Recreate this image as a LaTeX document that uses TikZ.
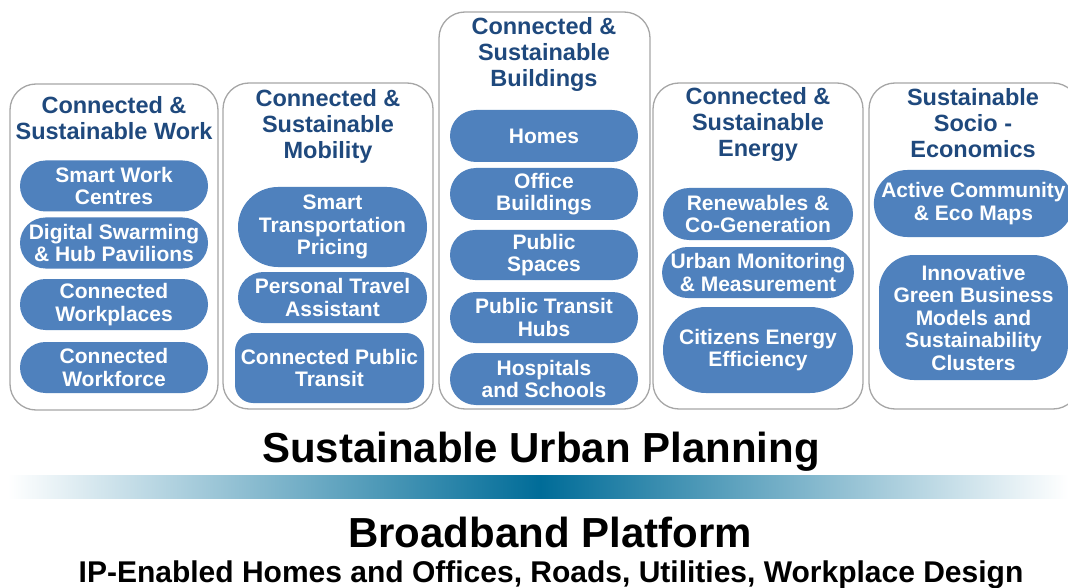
\documentclass[tikz,border=0pt]{standalone}
\usepackage{fontspec}
\setmainfont{Liberation Sans}
\usetikzlibrary{positioning,shapes.misc}
\definecolor{pillblue}{HTML}{4F81BD}
\definecolor{headblue}{HTML}{1F497D}
\definecolor{framegray}{HTML}{A6A6A6}
\definecolor{bandteal}{HTML}{006C98}
\tikzset{
	column/.style={draw=framegray,line width=1.3pt,rounded corners=26pt,fill=white,inner sep=0pt},
	heading/.style={text=headblue,font=\bfseries\fontsize{23.5}{26}\selectfont,align=center,inner sep=0pt},
	pill/.style={rounded rectangle,fill=pillblue,text=white,
		font=\bfseries\fontsize{21}{22.5}\selectfont,align=center,
		minimum width=188pt,minimum height=51pt,inner sep=0pt},
	tile/.style={pill,rectangle,rounded corners=#1},
	banner/.style={font=\bfseries\fontsize{42}{46}\selectfont,inner sep=0pt},
	subbanner/.style={font=\bfseries\fontsize{30}{33}\selectfont,inner sep=0pt}
}

\begin{document}
\begin{tikzpicture}[x=1pt,y=-1pt]
	\useasboundingbox (0,0) rectangle (1068,588);

	% columns
	\node[column,minimum width=208pt,minimum height=326pt] (work) at (114,247) {};
	\node[column,minimum width=210pt,minimum height=326pt] (mobility) at (328,246) {};
	\node[column,minimum width=211pt,minimum height=397pt] (buildings) at (544.5,210.5) {};
	\node[column,minimum width=210pt,minimum height=326pt] (energy) at (758,246) {};
	\node[column,minimum width=210pt,minimum height=326pt] (socio) at (974,246) {};

	% headings
	\node[heading] (workhead) at (114,118.5) {Connected \&\\Sustainable Work};
	\node[heading] (mobilityhead) at (328,126) {Connected \&\\Sustainable\\Mobility};
	\node[heading] (buildingshead) at (544,54) {Connected \&\\Sustainable\\Buildings};
	\node[heading] (energyhead) at (758,124.5) {Connected \&\\Sustainable\\Energy};
	\node[heading] (sociohead) at (973,123) {Sustainable\\Socio -\\Economics};

	% work
	\node[pill] (smartwork) at (114,186) {Smart Work\\Centres};
	\node[pill] (swarming) at (114,243) {Digital Swarming\\\& Hub Pavilions};
	\node[pill] (workplaces) at (114,304.5) {Connected\\Workplaces};
	\node[pill] (workforce) at (114,367.5) {Connected\\Workforce};

	% mobility
	\node[pill,minimum width=189pt,minimum height=80pt] (pricing) at (332.5,227) {Smart\\Transportation\\Pricing};
	\node[pill,minimum width=189pt] (travel) at (332.5,297.5) {Personal Travel\\Assistant};
	\node[tile=18pt,minimum width=189pt,minimum height=70pt] (transit) at (329.5,368) {Connected Public\\Transit};

	% buildings
	\node[pill,minimum height=52pt] (homes) at (544,136) {Homes};
	\node[pill,minimum height=52pt] (offices) at (544,194) {Office\\Buildings};
	\node[pill,minimum height=50pt] (spaces) at (544,255) {Public\\Spaces};
	\node[pill] (hubs) at (544,317.5) {Public Transit\\Hubs};
	\node[pill,minimum height=52pt] (hospitals) at (544,379) {Hospitals\\and Schools};

	% energy
	\node[pill,minimum width=190pt,minimum height=52pt] (renewables) at (758,214) {Renewables \&\\Co-Generation};
	\node[pill,minimum width=190pt] (monitoring) at (758,272.5) {Urban Monitoring\\\& Measurement};
	\node[pill,minimum width=190pt,minimum height=86pt] (efficiency) at (758,350) {Citizens Energy\\Efficiency};

	% socio-economics
	\node[pill,minimum width=189pt,minimum height=67pt] (community) at (973.5,203.5) {Active Community\\\& Eco Maps};
	\node[tile=35pt,minimum width=189pt,minimum height=125pt] (green) at (973.5,317.5) {Innovative\\Green Business\\Models and\\Sustainability\\Clusters};

	% planning band
	\node[banner,anchor=base] (planning) at (541,462) {Sustainable Urban Planning};
	\shade[left color=white,right color=bandteal] (8,475) rectangle (541,498);
	\shade[left color=bandteal,right color=white] (540,475) rectangle (1068,498);
	\node[banner,anchor=base] (broadband) at (550,547) {Broadband Platform};
	\node[subbanner,anchor=base] (ipline) at (551,582) {IP-Enabled Homes and Offices, Roads, Utilities, Workplace Design};
\end{tikzpicture}
\end{document}
